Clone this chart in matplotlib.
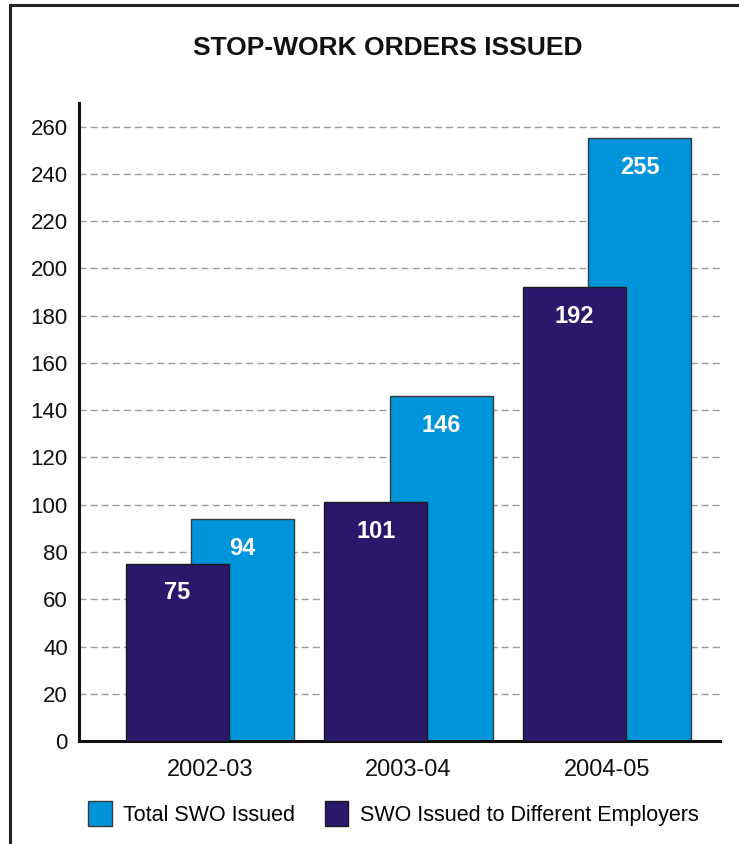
import numpy as np
import matplotlib
matplotlib.use("Agg")
from matplotlib import pyplot as plt
from matplotlib.lines import Line2D
from matplotlib.patches import Patch

plt.rcParams['font.family'] = ['Liberation Sans', 'DejaVu Sans']

# data
years = ["2002-03", "2003-04", "2004-05"]
total_swo = [94, 146, 255]
swo_employers = [75, 101, 192]
yticks = list(range(0, 261, 20))

LIGHT = "#0094da"
DARK = "#2a186c"

fig = plt.figure(figsize=(7.39, 8.44), dpi=100)
ax = fig.add_axes([0.1069, 0.122, 0.8674, 0.756])

x = np.arange(len(years))
w = 0.52
off = 0.165

b_tot = ax.bar(x + off, total_swo, w, color=LIGHT, edgecolor="#3a3a3a", linewidth=1, zorder=2)
b_emp = ax.bar(x - off, swo_employers, w, color=DARK, edgecolor="#1a1a1a", linewidth=1, zorder=3)

# value labels inside the bars
for bars, vals in [(b_tot, total_swo), (b_emp, swo_employers)]:
    for r, v in zip(bars, vals):
        ax.annotate(str(v), (r.get_x() + r.get_width() / 2, v), xytext=(0, -21),
                    textcoords="offset points", ha="center", va="center",
                    color="white", fontsize=17, fontweight="bold", zorder=4)

ax.set_xlim(-0.66, 2.57)
ax.set_ylim(0, 270)
ax.set_yticks(yticks)
ax.set_yticklabels([str(t) for t in yticks])
ax.set_xticks(x)
ax.set_xticklabels(years)
ax.tick_params(axis="both", length=0, labelsize=16, colors="#111111")
ax.tick_params(axis="y", pad=8)
ax.tick_params(axis="x", pad=13, labelsize=17)

for t in yticks[1:]:
    ax.axhline(t, color="#9a9a9a", linestyle=(0, (5, 3)), linewidth=1, zorder=1)

for s in ["top", "right"]:
    ax.spines[s].set_visible(False)
for s in ["left", "bottom"]:
    ax.spines[s].set_linewidth(2.2)
    ax.spines[s].set_color("#111111")

fig.text(0.525, 0.943, "STOP-WORK ORDERS ISSUED", ha="center", va="center",
         fontsize=19, fontweight="bold", color="#111111")

# frame lines (left and top only)
fig.add_artist(Line2D([0.0135, 0.0135], [0, 0.994], transform=fig.transFigure, color="#222222", linewidth=2.2))
fig.add_artist(Line2D([0.0135, 1.0], [0.994, 0.994], transform=fig.transFigure, color="#222222", linewidth=2.2))

handles = [Patch(facecolor=LIGHT, edgecolor="#3a3a3a", linewidth=1),
           Patch(facecolor=DARK, edgecolor="#1a1a1a", linewidth=1)]
fig.legend(handles, ["Total SWO Issued", "SWO Issued to Different Employers"],
           loc="center left", bbox_to_anchor=(0.119, 0.036), ncol=2, frameon=False,
           fontsize=15.5, handlelength=1.1, handleheight=1.35, handletextpad=0.55,
           columnspacing=1.35, borderpad=0, borderaxespad=0)

fig.savefig("out.png", dpi=100)
